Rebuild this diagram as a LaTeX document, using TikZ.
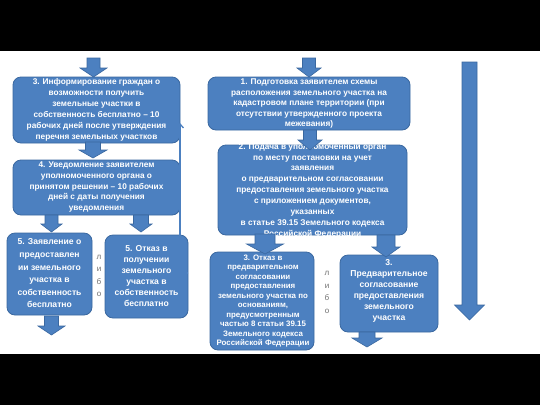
\documentclass[tikz,border=0pt]{standalone}
\usepackage{fontspec}
\setmainfont{Liberation Sans}
\usetikzlibrary{arrows.meta}
\definecolor{boxblue}{RGB}{76,128,192}
\definecolor{boxedge}{RGB}{58,104,160}
\definecolor{libogray}{RGB}{110,110,110}
\tikzset{
  box/.style={draw=boxedge, fill=boxblue, line width=0.8pt, rounded corners=8pt, inner sep=0pt},
  txt/.style={text=white, font=\bfseries, align=center, inner sep=0pt},
  libo/.style={text=libogray, align=center, inner sep=0pt, font=\fontsize{8}{12.5}\selectfont},
  fb/.style={draw=boxblue, line width=1.3pt, -{Straight Barb[length=4pt,width=7pt]}},
  pics/bdown/.style n args={4}{code={
    \draw[draw=boxedge, fill=boxblue, line width=0.6pt]
      (-#2,0) -- (#2,0) -- (#2,#1-#4) -- (#3,#1-#4) -- (0,#1)
      -- (-#3,#1-#4) -- (-#2,#1-#4) -- cycle;}}
}
\begin{document}
\begin{tikzpicture}[x=1pt,y=-1pt]
\useasboundingbox (0,0) rectangle (540,405);
\fill[white] (0,0) rectangle (540,405);
\fill[black] (0,0) rectangle (540,51);
\fill[black] (0,354) rectangle (540,405);

% boxes
\node[box, minimum width=167pt, minimum height=66pt] (b3L) at (96.5,110) {};
\node[box, minimum width=167pt, minimum height=55pt] (b4) at (96.5,187.5) {};
\node[box, minimum width=85pt, minimum height=82pt] (b5L) at (49.5,274) {};
\node[box, minimum width=83pt, minimum height=83pt] (b5R) at (146.5,276.5) {};
\node[box, minimum width=202pt, minimum height=53pt] (b1) at (309,103.5) {};
\node[box, minimum width=189pt, minimum height=90pt] (b2) at (312.5,190) {};
\node[box, minimum width=104pt, minimum height=98pt] (b3a) at (262,301) {};
\node[box, minimum width=98pt, minimum height=77pt] (b3b) at (389,293.5) {};

% texts
\node[txt, font=\bfseries\fontsize{8.3}{11}\selectfont] (t3L) at (96.5,110)
 {3. Информирование граждан о\\возможности получить\\земельные участки в\\собственность бесплатно – 10\\рабочих дней после утверждения\\перечня земельных участков};
\node[txt, font=\bfseries\fontsize{8.3}{10.8}\selectfont] (t4) at (96.5,187)
 {4. Уведомление заявителем\\уполномоченного органа о\\принятом решении – 10 рабочих\\дней с даты получения\\уведомления};
\node[txt, font=\bfseries\fontsize{8.6}{12.6}\selectfont] (t5L) at (49.5,273.5)
 {5. Заявление о\\предоставлен\\ии земельного\\участка в\\собственность\\бесплатно};
\node[txt, font=\bfseries\fontsize{8.6}{11}\selectfont] (t5R) at (146.5,276)
 {5. Отказ в\\получении\\земельного\\участка в\\собственность\\бесплатно};
\node[txt, font=\bfseries\fontsize{8.3}{10.5}\selectfont] (t1) at (309,104)
 {1. Подготовка заявителем схемы\\расположения земельного участка на\\кадастровом плане территории (при\\отсутствии утвержденного проекта\\межевания)};
\node[txt, font=\bfseries\fontsize{8.3}{10.9}\selectfont] (t2) at (312.5,190.5)
 {2. Подача в уполномоченный орган\\по месту постановки на учет\\заявления\\о предварительном согласовании\\предоставления земельного участка\\с приложением документов,\\указанных\\в статье 39.15 Земельного кодекса\\Российской Федерации};
\node[txt, font=\bfseries\fontsize{7.9}{9.5}\selectfont] (t3a) at (263,301)
 {3. Отказ в\\предварительном\\согласовании\\предоставления\\земельного участка по\\основаниям,\\предусмотренным\\частью 8 статьи 39.15\\Земельного кодекса\\Российской Федерации};
\node[txt, font=\bfseries\fontsize{8.6}{11}\selectfont] (t3b) at (389,291)
 {3.\\Предварительное\\согласование\\предоставления\\земельного\\участка};

% "либо"
\node[libo] (l1) at (99,276) {л\\и\\б\\о};
\node[libo] (l2) at (327,292.5) {л\\и\\б\\о};

% block arrows
\pic at (93.5,58) {bdown={19}{6.5}{13.5}{9}};
\pic at (93,142) {bdown={16}{7.5}{14}{8}};
\pic at (51.5,215) {bdown={17}{6.5}{10.5}{8}};
\pic at (141,215) {bdown={17}{7.5}{11}{8}};
\pic at (51.5,316) {bdown={19}{7}{13.5}{9}};
\pic at (309,58) {bdown={19}{6.5}{12}{9}};
\pic at (310,130) {bdown={20}{6.5}{12}{10}};
\pic at (265,234) {bdown={20}{10}{18.5}{10}};
\pic at (386,235) {bdown={22}{9}{14}{10}};
\pic at (367,332) {bdown={15}{8}{15}{9}};
\pic at (469.5,62) {bdown={258}{7.5}{15}{15}};

% feedback line
\coordinate (fbtop) at (180,123);
\draw[fb] ([yshift=3.5pt]b5R.east) -| (fbtop);
\end{tikzpicture}
\end{document}
